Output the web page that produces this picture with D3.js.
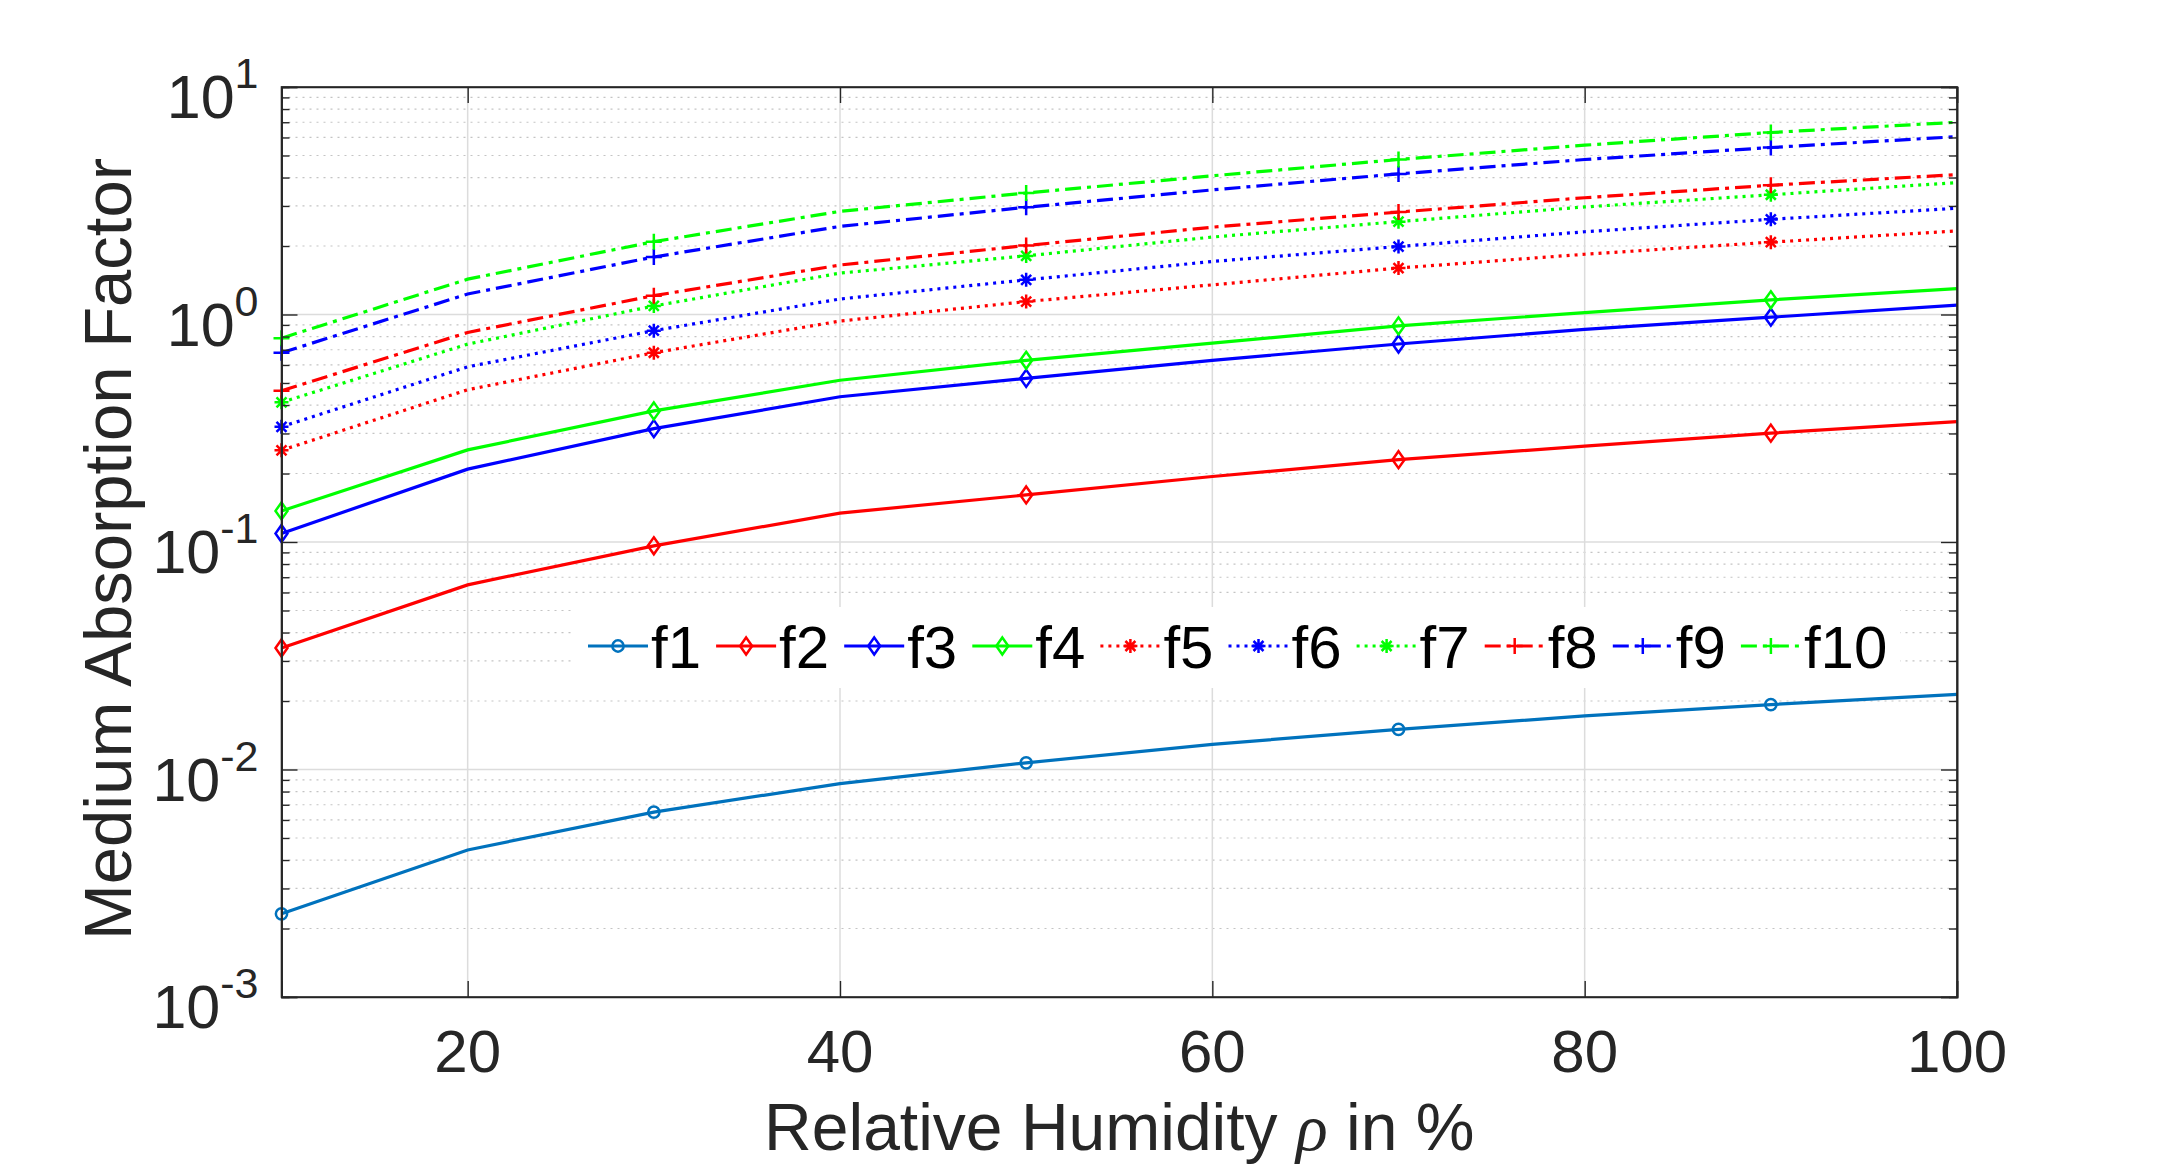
<!DOCTYPE html>
<html>
<head>
<meta charset="utf-8">
<script src="https://cdn.jsdelivr.net/npm/d3@7"></script>
<style>
  body { margin: 0; background: #fff; }
  svg { display: block; }
  text { font-family: "Liberation Sans", Arial, Helvetica, sans-serif; }
</style>
</head>
<body>
<svg id="chart" width="2162" height="1164"></svg>
<script>
// values (x = relative humidity in %)
const humidity = [10, 20, 30, 40, 50, 60, 70, 80, 90, 100];
const f1 = [0.00232, 0.00443, 0.00650, 0.00867, 0.0107, 0.0129, 0.0150, 0.0172, 0.0193, 0.0214];
const f2 = [0.0342, 0.0648, 0.0962, 0.134, 0.161, 0.194, 0.230, 0.264, 0.301, 0.338];
const f3 = [0.109, 0.209, 0.315, 0.435, 0.524, 0.629, 0.742, 0.860, 0.973, 1.10];
const f4 = [0.137, 0.254, 0.377, 0.514, 0.629, 0.748, 0.891, 1.02, 1.16, 1.30];
const f5 = [0.253, 0.467, 0.679, 0.936, 1.14, 1.35, 1.60, 1.84, 2.08, 2.33];
const f6 = [0.321, 0.589, 0.849, 1.17, 1.42, 1.71, 1.99, 2.31, 2.62, 2.93];
const f7 = [0.411, 0.741, 1.09, 1.52, 1.81, 2.19, 2.56, 2.97, 3.36, 3.80];
const f8 = [0.462, 0.834, 1.21, 1.65, 2.01, 2.42, 2.82, 3.26, 3.70, 4.12];
const f9 = [0.679, 1.23, 1.79, 2.44, 2.96, 3.53, 4.15, 4.80, 5.42, 6.05];
const f10 = [0.787, 1.43, 2.09, 2.84, 3.42, 4.07, 4.80, 5.55, 6.31, 7.00];
const seriesNames = ['f1', 'f2', 'f3', 'f4', 'f5', 'f6', 'f7', 'f8', 'f9', 'f10'];
const seriesValues = [f1, f2, f3, f4, f5, f6, f7, f8, f9, f10];
const xTickValues = [20, 40, 60, 80, 100];
const yTickValues = [1e-3, 1e-2, 1e-1, 1, 10];
const yTickExponents = ['-3', '-2', '-1', '0', '1'];
const xLabel = 'Relative Humidity ';
const yLabel = 'Medium Absorption Factor';

// look of each series (matlab style)
const styles = [
  { color: '#0072bd', dash: null, marker: 'o' },
  { color: '#ff0000', dash: null, marker: 'd' },
  { color: '#0000ff', dash: null, marker: 'd' },
  { color: '#00ff00', dash: null, marker: 'd' },
  { color: '#ff0000', dash: '3,5', marker: '*' },
  { color: '#0000ff', dash: '3,5', marker: '*' },
  { color: '#00ff00', dash: '3,5', marker: '*' },
  { color: '#ff0000', dash: '16,6,4,6', marker: '+' },
  { color: '#0000ff', dash: '16,6,4,6', marker: '+' },
  { color: '#00ff00', dash: '16,6,4,6', marker: '+' }
];

const svg = d3.select('#chart');
const margin = { top: 87, right: 205, bottom: 167, left: 281.5 };
const width = +svg.attr('width') - margin.left - margin.right;
const height = +svg.attr('height') - margin.top - margin.bottom;
const g = svg.append('g').attr('transform', `translate(${margin.left},${margin.top})`);

const x = d3.scaleLinear().domain([10, 100]).range([0, width]);
const y = d3.scaleLog().domain([1e-3, 1e1]).range([height, 0]);

const axisColor = '#262626';
const minorTicks = [];
for (let e = -3; e < 1; e++) {
  for (let m = 2; m <= 9; m++) minorTicks.push(m * Math.pow(10, e));
}

// grid
const grid = g.append('g');
grid.selectAll('.minor').data(minorTicks).join('line')
  .attr('x1', 0).attr('x2', width)
  .attr('y1', d => y(d)).attr('y2', d => y(d))
  .attr('stroke', '#c4c4c4').attr('stroke-width', 1.2).attr('stroke-dasharray', '2,5');
grid.selectAll('.majorY').data(yTickValues.slice(1, -1)).join('line')
  .attr('x1', 0).attr('x2', width)
  .attr('y1', d => y(d)).attr('y2', d => y(d))
  .attr('stroke', '#dcdcdc').attr('stroke-width', 1.5);
grid.selectAll('.majorX').data(xTickValues.slice(0, -1)).join('line')
  .attr('x1', d => x(d)).attr('x2', d => x(d))
  .attr('y1', 0).attr('y2', height)
  .attr('stroke', '#dcdcdc').attr('stroke-width', 1.5);

// markers
function markerPath(type) {
  if (type === 'o') return d3.symbol().type(d3.symbolCircle).size(100)();
  if (type === 'd') return 'M0,-8.5L6,0L0,8.5L-6,0Z';
  if (type === '*') return 'M0,-7L0,7M-7,0L7,0M-5,-5L5,5M-5,5L5,-5';
  return 'M0,-8L0,8M-8,0L8,0';
}

const line = d3.line()
  .x((d, i) => x(humidity[i]))
  .y(d => y(d));

const plot = g.append('g');
seriesValues.forEach((vals, k) => {
  const s = styles[k];
  plot.append('path')
    .datum(vals)
    .attr('fill', 'none')
    .attr('stroke', s.color)
    .attr('stroke-width', 3.2)
    .attr('stroke-dasharray', s.dash)
    .attr('d', line);
  plot.selectAll(null)
    .data(vals.map((v, i) => ({ x: humidity[i], v })).filter((d, i) => i % 2 === 0))
    .join('path')
    .attr('transform', d => `translate(${x(d.x)},${y(d.v)})`)
    .attr('d', markerPath(s.marker))
    .attr('fill', 'none')
    .attr('stroke', s.color)
    .attr('stroke-width', 2.5);
});

// axes box and ticks
const axes = g.append('g').attr('color', axisColor);
axes.append('g').attr('transform', `translate(0,${height})`)
  .call(d3.axisBottom(x).tickValues(xTickValues).tickSize(-16).tickFormat(''));
axes.append('g')
  .call(d3.axisTop(x).tickValues(xTickValues).tickSize(-16).tickFormat(''));
axes.append('g')
  .call(d3.axisLeft(y).tickValues(yTickValues).tickSize(-16).tickFormat(''));
axes.append('g').attr('transform', `translate(${width},0)`)
  .call(d3.axisRight(y).tickValues(yTickValues).tickSize(-16).tickFormat(''));
axes.append('g')
  .call(d3.axisLeft(y).tickValues(minorTicks).tickSize(-8).tickFormat(''));
axes.append('g').attr('transform', `translate(${width},0)`)
  .call(d3.axisRight(y).tickValues(minorTicks).tickSize(-8).tickFormat(''));
axes.selectAll('.domain').attr('stroke-width', 1.6);
axes.selectAll('.tick line').attr('stroke-width', 1.4);
g.append('rect').attr('width', width).attr('height', height)
  .attr('fill', 'none').attr('stroke', axisColor).attr('stroke-width', 1.6);

// tick labels
g.selectAll('.xlab').data(xTickValues).join('text')
  .attr('x', d => x(d)).attr('y', height + 75)
  .attr('text-anchor', 'middle')
  .attr('font-size', 60).attr('fill', axisColor)
  .text(d => d);

const ylab = g.selectAll('.ylab').data(yTickValues).join('text')
  .attr('x', -23).attr('y', d => y(d) + 31)
  .attr('text-anchor', 'end')
  .attr('font-size', 61).attr('fill', axisColor);
ylab.append('tspan').text('10');
ylab.append('tspan').attr('dy', -30).attr('font-size', 43)
  .text((d, i) => yTickExponents[i]);

// axis titles
const xt = g.append('text')
  .attr('x', width / 2).attr('y', height + 153)
  .attr('text-anchor', 'middle')
  .attr('font-size', 66).attr('fill', axisColor);
xt.append('tspan').text(xLabel);
xt.append('tspan').attr('font-family', '"Liberation Serif", "DejaVu Serif", serif')
  .attr('font-style', 'italic').text('\u03c1');
xt.append('tspan').text(' in %');

g.append('text')
  .attr('transform', `translate(${131 - margin.left},${height / 2 + 7}) rotate(-90)`)
  .attr('text-anchor', 'middle')
  .attr('font-size', 67).attr('fill', axisColor)
  .text(yLabel);

// legend (horizontal, white box without border)
const legend = svg.append('g');
legend.append('rect')
  .attr('x', 574).attr('y', 607).attr('width', 1326).attr('height', 81)
  .attr('fill', '#fff');
const items = legend.selectAll('.item').data(seriesNames).join('g')
  .attr('transform', (d, i) => `translate(${588 + i * 128.1},646)`);
items.append('line')
  .attr('x1', 0).attr('x2', 60)
  .attr('stroke', (d, i) => styles[i].color)
  .attr('stroke-width', 3.2)
  .attr('stroke-dasharray', (d, i) => styles[i].dash);
items.append('path')
  .attr('transform', 'translate(30,0)')
  .attr('d', (d, i) => markerPath(styles[i].marker))
  .attr('fill', 'none')
  .attr('stroke', (d, i) => styles[i].color)
  .attr('stroke-width', 2.5);
items.append('text')
  .attr('x', 63).attr('y', 22)
  .attr('font-size', 60).attr('fill', '#000')
  .text(d => d);
</script>
</body>
</html>
